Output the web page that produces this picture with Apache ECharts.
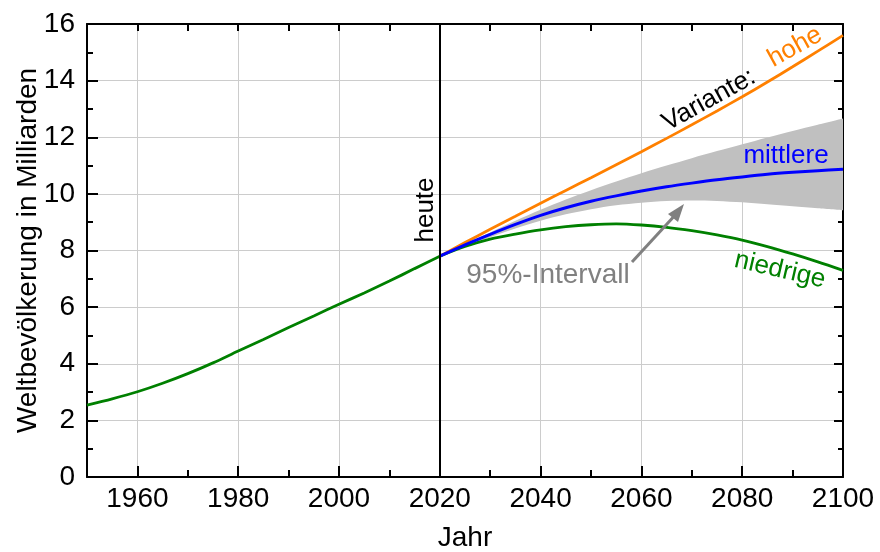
<!DOCTYPE html>
<html><head><meta charset="utf-8">
<script src="https://cdn.jsdelivr.net/npm/echarts@6/dist/echarts.min.js"></script>
<style>html,body{margin:0;padding:0;background:#fff}#c{width:880px;height:552px}</style>
</head><body><div id="c"></div>
<script>
const histYears = [1950,1955,1960,1965,1970,1975,1980,1985,1990,1995,2000,2005,2010,2015,2020];
const histValues = [2.54,2.76,3.01,3.31,3.65,4.03,4.45,4.86,5.28,5.69,6.10,6.50,6.92,7.36,7.80];
const projYears = [2020,2025,2030,2035,2040,2045,2050,2055,2060,2065,2070,2075,2080,2085,2090,2095,2100];
const highValues = [7.80,8.28,8.75,9.21,9.67,10.12,10.57,11.03,11.49,11.96,12.44,12.93,13.43,13.95,14.49,15.04,15.60];
const mediumValues = [7.80,8.20,8.57,8.92,9.24,9.51,9.74,9.93,10.10,10.25,10.38,10.50,10.60,10.69,10.76,10.82,10.87];
const lowValues = [7.80,8.14,8.40,8.58,8.73,8.84,8.91,8.94,8.90,8.82,8.70,8.55,8.37,8.14,7.88,7.60,7.30];
const bandLower = [7.80,8.14,8.47,8.78,9.05,9.28,9.46,9.60,9.69,9.75,9.77,9.75,9.70,9.63,9.56,9.49,9.42];
const bandUpper = [7.80,8.22,8.64,9.05,9.44,9.80,10.13,10.44,10.73,11.00,11.26,11.51,11.75,11.99,12.22,12.44,12.66];
const xTickLabels = [1960,1980,2000,2020,2040,2060,2080,2100];
const yTickLabels = [0,2,4,6,8,10,12,14,16];

const FONT = "'Liberation Sans', Arial, sans-serif";
const pairs = (xs, ys) => xs.map((x, i) => [x, ys[i]]);
// value first, year second, so that stacking acts on the value dimension
const vpairs = (xs, ys) => xs.map((x, i) => [ys[i], x]);

const chart = echarts.init(document.getElementById('c'), null, {renderer: 'canvas'});
const black = {color: '#000', width: 2};
const option = {
  animation: false,
  backgroundColor: '#fff',
  grid: {left: 87, right: 37, top: 24, bottom: 75, containLabel: false, outerBoundsMode: 'none'},
  xAxis: [
    {type: 'value', min: 1950, max: 2100, position: 'bottom',
     axisLine: {onZero: false, lineStyle: black},
     axisTick: {inside: true, length: 11, customValues: xTickLabels, lineStyle: black},
     axisLabel: {customValues: xTickLabels, fontSize: 28, color: '#000', margin: 8, fontFamily: FONT,
       formatter: v => String(v)},
     splitLine: {show: true, lineStyle: {color: '#cccccc', width: 1}},
     name: 'Jahr', nameLocation: 'middle', nameGap: 47, nameMoveOverlap: false,
     nameTextStyle: {fontSize: 28, color: '#000', fontFamily: FONT}},
    {type: 'value', min: 1950, max: 2100, interval: 10, position: 'bottom',
     axisLine: {show: false, onZero: false},
     axisTick: {inside: true, length: 7, lineStyle: black},
     axisLabel: {show: false}, splitLine: {show: false}},
    {type: 'value', min: 1950, max: 2100, interval: 10, position: 'top',
     axisLine: {onZero: false, lineStyle: black},
     axisTick: {inside: true, length: 7, lineStyle: black},
     axisLabel: {show: false}, splitLine: {show: false}}
  ],
  yAxis: [
    {type: 'value', min: 0, max: 16, interval: 2, position: 'left',
     axisLine: {show: true, onZero: false, lineStyle: black},
     axisTick: {show: true, inside: true, length: 11, lineStyle: black},
     minorTick: {show: true, splitNumber: 2, length: 6, lineStyle: black},
     axisLabel: {fontSize: 28, color: '#000', margin: 12, fontFamily: FONT,
       formatter: v => yTickLabels.includes(v) ? String(v) : ''},
     splitLine: {show: true, lineStyle: {color: '#cccccc', width: 1}},
     name: 'Weltbevölkerung in Milliarden', nameLocation: 'middle', nameGap: 45, nameMoveOverlap: false,
     nameTextStyle: {fontSize: 28, color: '#000', fontFamily: FONT}},
    {type: 'value', min: 0, max: 16, interval: 2, position: 'right',
     axisLine: {show: true, onZero: false, lineStyle: black},
     axisTick: {show: true, inside: true, length: 9, lineStyle: black},
     minorTick: {show: true, splitNumber: 2, length: 5, lineStyle: black},
     axisLabel: {show: false}, splitLine: {show: false}}
  ],
  series: [
    {type: 'line', name: 'bandBase', stack: 'band', data: vpairs(projYears, bandLower),
     encode: {x: 1, y: 0},
     smooth: 0.3, symbol: 'none', lineStyle: {opacity: 0}, silent: true, z: 1},
    {type: 'line', name: '95%-Intervall', stack: 'band',
     data: vpairs(projYears, bandUpper.map((u, i) => +(u - bandLower[i]).toFixed(3))),
     encode: {x: 1, y: 0},
     smooth: 0.3, symbol: 'none', lineStyle: {opacity: 0},
     areaStyle: {color: '#c0c0c0', opacity: 1}, silent: true, z: 1},
    {type: 'line', name: 'hohe', data: pairs(projYears, highValues), smooth: 0.3, symbol: 'none',
     lineStyle: {color: '#ff8000', width: 2.8}, z: 3},
    {type: 'line', name: 'niedrige', data: pairs(projYears, lowValues), smooth: 0.3, symbol: 'none',
     lineStyle: {color: '#008000', width: 2.8}, z: 3},
    {type: 'line', name: 'mittlere', data: pairs(projYears, mediumValues), smooth: 0.3, symbol: 'none',
     lineStyle: {color: '#0000ff', width: 3}, z: 4},
    {type: 'line', name: 'historisch', data: pairs(histYears, histValues), smooth: 0.3, symbol: 'none',
     lineStyle: {color: '#008000', width: 2.8}, z: 4,
     markLine: {silent: true, symbol: ['none', 'none'], label: {show: false},
       lineStyle: {color: '#000', width: 2, type: 'solid'}, data: [{xAxis: 2020}]}}
  ],
  graphic: [
    {type: 'text', x: 426, y: 210, rotation: Math.PI / 2, z: 10,
     style: {text: 'heute', font: '26px ' + FONT, fill: '#000', textAlign: 'center', textVerticalAlign: 'middle'}},
    {type: 'text', x: 709, y: 100, rotation: 29 * Math.PI / 180, z: 10,
     style: {text: 'Variante:', font: '26px ' + FONT, fill: '#000', textAlign: 'center', textVerticalAlign: 'middle'}},
    {type: 'text', x: 795, y: 47, rotation: 29 * Math.PI / 180, z: 10,
     style: {text: 'hohe', font: '26px ' + FONT, fill: '#ff8000', textAlign: 'center', textVerticalAlign: 'middle'}},
    {type: 'text', x: 786, y: 156, z: 10,
     style: {text: 'mittlere', font: '26px ' + FONT, fill: '#0000ff', textAlign: 'center', textVerticalAlign: 'middle'}},
    {type: 'text', x: 780, y: 270, rotation: -13 * Math.PI / 180, z: 10,
     style: {text: 'niedrige', font: '26px ' + FONT, fill: '#008000', textAlign: 'center', textVerticalAlign: 'middle'}},
    {type: 'text', x: 548, y: 275, z: 10,
     style: {text: '95%-Intervall', font: '28px ' + FONT, fill: '#808080', textAlign: 'center', textVerticalAlign: 'middle'}},
    {type: 'line', z: 10, shape: {x1: 632, y1: 262, x2: 678, y2: 212},
     style: {stroke: '#808080', lineWidth: 3}},
    {type: 'polygon', z: 10, shape: {points: [[684, 204], [668, 214], [678, 222]]},
     style: {fill: '#808080'}}
  ]
};
chart.setOption(option);
</script>
</body></html>
